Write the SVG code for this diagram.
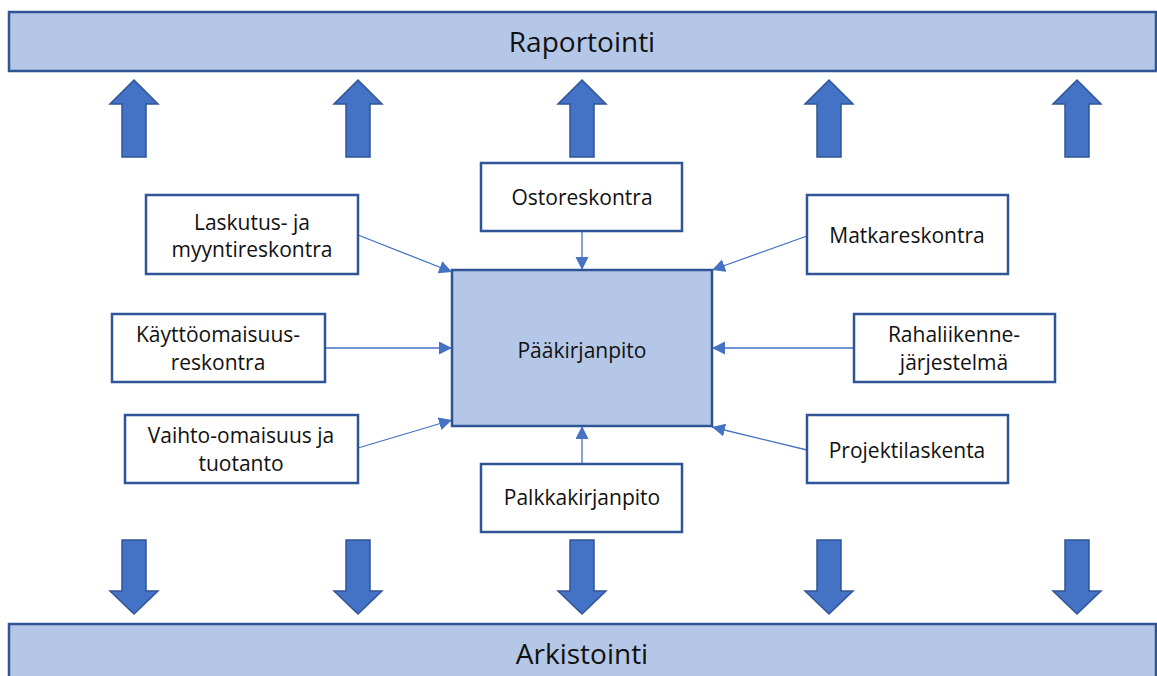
<svg xmlns="http://www.w3.org/2000/svg" width="1157" height="676" viewBox="0 0 1157 676">
<style>
.bar{fill:#B4C7E7;stroke:#2F5597;stroke-width:2.5}
.box{fill:#FFFFFF;stroke:#2F5597;stroke-width:2.5}
.main{fill:#B4C7E7;stroke:#2F5597;stroke-width:2.5}
.big{fill:#4472C4;stroke:#2F5597;stroke-width:1.5}
.t{font-family:"Open Sans","Liberation Sans",sans-serif;font-size:21px;fill:#111111;text-anchor:middle}
.tl{font-family:"Open Sans","Liberation Sans",sans-serif;font-size:28px;fill:#111111;text-anchor:middle}
.c{stroke:#4472C4;stroke-width:1.3;fill:none;marker-end:url(#ah)}
</style>
<defs>
<marker id="ah" markerUnits="userSpaceOnUse" markerWidth="14" markerHeight="14" refX="13" refY="6.5" orient="auto">
<path d="M0,0 L13,6.5 L0,13 Z" fill="#4472C4"/>
</marker>
<path id="up" d="M0,0 L24,24 L12,24 L12,77 L-12,77 L-12,24 L-24,24 Z"/>
<path id="down" d="M0,0 L24,-23 L12,-23 L12,-74 L-12,-74 L-12,-23 L-24,-23 Z"/>
</defs>
<g id="raportointi">
<rect class="bar" x="9" y="12" width="1147" height="59"/>
<text class="tl" x="582" y="52">Raportointi</text>
</g>
<g id="arkistointi">
<rect class="bar" x="9" y="624" width="1147" height="60"/>
<text class="tl" x="582" y="664">Arkistointi</text>
</g>
<g id="up-arrows">
<use href="#up" class="big" x="134" y="80"/>
<use href="#up" class="big" x="358" y="80"/>
<use href="#up" class="big" x="582" y="80"/>
<use href="#up" class="big" x="829" y="80"/>
<use href="#up" class="big" x="1077" y="80"/>
</g>
<g id="down-arrows">
<use href="#down" class="big" x="134" y="614"/>
<use href="#down" class="big" x="358" y="614"/>
<use href="#down" class="big" x="582" y="614"/>
<use href="#down" class="big" x="829" y="614"/>
<use href="#down" class="big" x="1077" y="614"/>
</g>
<g id="connectors">
<path class="c" d="M358,235 L452,272"/>
<path class="c" d="M325,348 L452,348"/>
<path class="c" d="M358,448 L452,420"/>
<path class="c" d="M582,231 L582,270"/>
<path class="c" d="M582,464 L582,426"/>
<path class="c" d="M807,236 L712,270"/>
<path class="c" d="M854,348 L712,348"/>
<path class="c" d="M807,450 L712,427"/>
</g>
<g id="paakirjanpito">
<rect class="main" x="452" y="270" width="260" height="156"/>
<text class="t" x="582" y="358">Pääkirjanpito</text>
</g>
<g id="ostoreskontra">
<rect class="box" x="481" y="163" width="201" height="68"/>
<text class="t" x="582" y="205">Ostoreskontra</text>
</g>
<g id="palkkakirjanpito">
<rect class="box" x="481" y="464" width="201" height="68"/>
<text class="t" x="582" y="505">Palkkakirjanpito</text>
</g>
<g id="laskutus">
<rect class="box" x="146" y="195" width="212" height="79"/>
<text class="t" x="252" y="230">Laskutus- ja</text>
<text class="t" x="252" y="257">myyntireskontra</text>
</g>
<g id="kayttoomaisuus">
<rect class="box" x="112" y="314" width="213" height="68"/>
<text class="t" x="218" y="342">Käyttöomaisuus-</text>
<text class="t" x="218" y="370">reskontra</text>
</g>
<g id="vaihto-omaisuus">
<rect class="box" x="125" y="415" width="233" height="68"/>
<text class="t" x="241" y="443">Vaihto-omaisuus ja</text>
<text class="t" x="241" y="471">tuotanto</text>
</g>
<g id="matkareskontra">
<rect class="box" x="807" y="195" width="201" height="79"/>
<text class="t" x="907" y="243">Matkareskontra</text>
</g>
<g id="rahaliikenne">
<rect class="box" x="854" y="314" width="201" height="68"/>
<text class="t" x="954" y="342">Rahaliikenne-</text>
<text class="t" x="954" y="370">järjestelmä</text>
</g>
<g id="projektilaskenta">
<rect class="box" x="807" y="415" width="201" height="68"/>
<text class="t" x="907" y="458">Projektilaskenta</text>
</g>
</svg>
